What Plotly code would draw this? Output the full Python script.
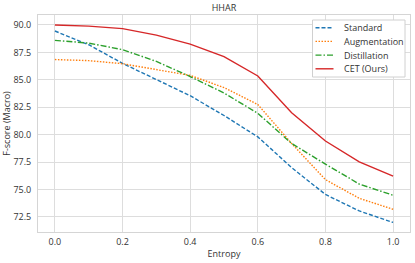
import plotly.graph_objects as go

entropy = [0.0, 0.1, 0.2, 0.3, 0.4, 0.5, 0.6, 0.7, 0.8, 0.9, 1.0]
standard = [89.45, 88.2, 86.5, 85.0, 83.55, 81.75, 79.8, 77.0, 74.55, 73.05, 72.0]
augmentation = [86.85, 86.75, 86.47, 85.95, 85.4, 84.3, 82.75, 79.2, 75.9, 74.2, 73.2]
distillation = [88.6, 88.35, 87.75, 86.68, 85.3, 83.8, 81.95, 79.2, 77.32, 75.5, 74.48]
cet = [90.0, 89.9, 89.67, 89.08, 88.25, 87.12, 85.35, 82.0, 79.42, 77.53, 76.22]

series_names = ["Standard", "Augmentation", "Distillation", "CET (Ours)"]
series_values = [standard, augmentation, distillation, cet]
colors = ["#1f77b4", "#ff7f0e", "#2ca02c", "#d62728"]
dashes = ["4px,2px", "1.5px,1.5px", "6px,2px,1.5px,2px", "solid"]

x_ticks = [0.0, 0.2, 0.4, 0.6, 0.8, 1.0]
y_ticks = [72.5, 75.0, 77.5, 80.0, 82.5, 85.0, 87.5, 90.0]

FONT = "Open Sans, Noto Sans, sans-serif"
TXT = "#333333"
W, H = 415, 263
ML, MR, MT, MB = 38, 5, 15, 31
PW, PH = W - ML - MR, H - MT - MB


def px_x(px):
    return (px - ML) / PW


def px_y(py):
    return (H - MB - py) / PH


fig = go.Figure()
for name, vals, c, d in zip(series_names, series_values, colors, dashes):
    fig.add_trace(go.Scatter(
        x=entropy, y=vals, mode="lines", name=name,
        line=dict(color=c, width=1.4, dash=d),
    ))

# legend box drawn manually (matplotlib-like compact spacing)
shapes = [dict(type="rect", xref="paper", yref="paper",
               x0=px_x(312.5), x1=px_x(405), y0=px_y(77), y1=px_y(20),
               line=dict(color="#d0d0d0", width=1), fillcolor="white", layer="above")]
annotations = []
row_y = [27.7, 41.4, 55.1, 68.8]
for name, c, d, ry in zip(series_names, colors, dashes, row_y):
    shapes.append(dict(type="line", xref="paper", yref="paper",
                       x0=px_x(315.5), x1=px_x(333.5), y0=px_y(ry), y1=px_y(ry),
                       line=dict(color=c, width=1.4, dash=d), layer="above"))
    annotations.append(dict(text=name, xref="paper", yref="paper",
                            x=px_x(342), y=px_y(ry), xanchor="left", yanchor="middle",
                            showarrow=False, font=dict(family=FONT, size=9, color=TXT)))

fig.update_layout(
    width=W, height=H,
    margin=dict(l=ML, r=MR, t=MT, b=MB, pad=0),
    paper_bgcolor="white", plot_bgcolor="white",
    font=dict(family=FONT, size=9, color=TXT),
    title=dict(text="HHAR", x=224 / W, xanchor="center",
               y=(H - 8) / H, yanchor="middle",
               font=dict(family=FONT, size=9, color=TXT)),
    showlegend=False,
    shapes=shapes,
    annotations=annotations,
)
fig.update_xaxes(
    range=[-0.05, 1.05], tickvals=x_ticks, tickformat=".1f",
    showgrid=True, gridcolor="#dddddd", gridwidth=1,
    showline=True, linecolor="#d5d5d5", linewidth=1, mirror=True,
    zeroline=False, ticks="", ticklen=0, automargin=False,
    ticklabelstandoff=1,
    title=dict(text="Entropy", font=dict(family=FONT, size=9, color=TXT), standoff=3),
    tickfont=dict(family=FONT, size=9, color=TXT),
)
fig.update_yaxes(
    range=[71.13, 90.91], tickvals=y_ticks, tickformat=".1f",
    showgrid=True, gridcolor="#dddddd", gridwidth=1,
    showline=True, linecolor="#d5d5d5", linewidth=1, mirror=True,
    zeroline=False, ticks="", ticklen=0, automargin=False,
    ticklabelstandoff=4,
    title=dict(text="F-score (Macro)", font=dict(family=FONT, size=9, color=TXT), standoff=0),
    tickfont=dict(family=FONT, size=9, color=TXT),
)

fig.write_html("out.html", post_script="document.body.style.margin='0';",
               config={"displayModeBar": False})
